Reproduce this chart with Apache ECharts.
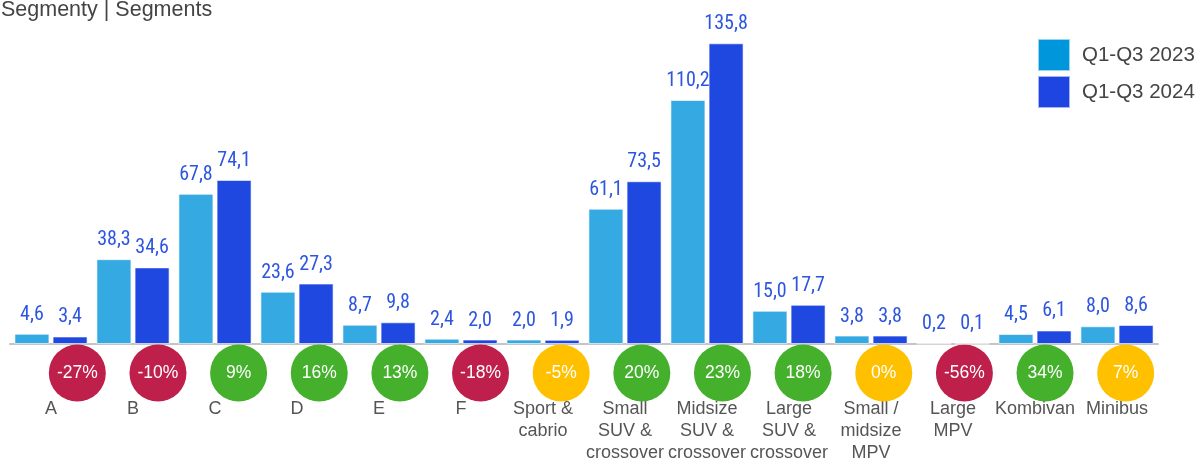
<!DOCTYPE html>
<html>
<head>
<meta charset="utf-8">
<script src="https://cdn.jsdelivr.net/npm/echarts@6/dist/echarts.min.js"></script>
<style>
html,body{margin:0;padding:0;background:#fff}
#chart{width:1199px;height:460px}
</style>
</head>
<body>
<div id="chart"></div>
<script>
// segmenty
var categories=['A','B','C','D','E','F','Sport &\ncabrio','Small\nSUV &\ncrossover','Midsize\nSUV &\ncrossover','Large\nSUV &\ncrossover','Small /\nmidsize\nMPV','Large\nMPV','Kombivan','Minibus'];
var values2023=[4.6,38.3,67.8,23.6,8.7,2.4,2.0,61.1,110.2,15.0,3.8,0.2,4.5,8.0];
var values2024=[3.4,34.6,74.1,27.3,9.8,2.0,1.9,73.5,135.8,17.7,3.8,0.1,6.1,8.6];
var changes=[-27,-10,9,16,13,-18,-5,20,23,18,0,-56,34,7];

var chart=echarts.init(document.getElementById('chart'));
var font='"Liberation Sans", Arial, sans-serif';
var narrow='"Roboto Condensed", "Liberation Sans Narrow", "DejaVu Sans Condensed", sans-serif';

function fmt(p){return p.value.toFixed(1).replace('.',',');}
function changeColor(v){
	if(v<-7) return '#be1f4b';
	if(v>8) return '#44b02c';
	return '#ffc000';
}

var valueLabel={
	show:true,position:'top',distance:9,
	fontFamily:narrow,fontSize:20,color:'#2d55e0',
	formatter:fmt
};

chart.setOption({
	animation:false,
	title:{
		text:'Segmenty | Segments',
		left:1,top:-1,padding:0,
		textStyle:{fontFamily:font,fontSize:21.5,fontWeight:'normal',color:'#444'}
	},
	legend:{
		orient:'vertical',left:1032,top:33,
		itemWidth:32,itemHeight:32,itemGap:3,
		icon:'rect',
		textStyle:{fontFamily:font,fontSize:20.5,color:'#444',padding:[0,0,0,7]},
		data:[
			{name:'Q1-Q3 2023',itemStyle:{color:'#0096db'}},
			{name:'Q1-Q3 2024',itemStyle:{color:'#1e44e1'}}
		]
	},
	grid:[
		{left:10,right:41,top:34,bottom:116,outerBoundsMode:'none',containLabel:false},
		{left:37,right:33,top:344,height:58,outerBoundsMode:'none',containLabel:false}
	],
	xAxis:[{
		type:'category',gridIndex:0,data:categories,
		axisLine:{lineStyle:{color:'#c4c4c4',width:2}},
		axisTick:{show:false},
		axisLabel:{
			interval:0,margin:54,
			fontFamily:font,fontSize:18,lineHeight:22,color:'#555',
			verticalAlign:'top'
		}
	},{
		type:'category',gridIndex:1,data:categories,show:false
	}],
	yAxis:[{
		type:'value',gridIndex:0,min:0,max:140,show:false,splitLine:{show:false}
	},{
		type:'value',gridIndex:1,min:0,max:1,show:false,splitLine:{show:false}
	}],
	series:[{
		name:'Q1-Q3 2023',type:'bar',data:values2023,
		barWidth:35,barGap:'9%',
		itemStyle:{color:'#35a9e1',borderColor:'rgba(255,255,255,0.6)',borderWidth:1},
		label:valueLabel
	},{
		name:'Q1-Q3 2024',type:'bar',data:values2024,
		barWidth:35,barGap:'9%',
		itemStyle:{color:'#1f48e0',borderColor:'rgba(255,255,255,0.6)',borderWidth:1},
		label:valueLabel
	},{
		name:'change',type:'scatter',xAxisIndex:1,yAxisIndex:1,
		symbolSize:57,z:1,
		data:changes.map(function(v,i){
			return {value:[i,0.5],change:v,itemStyle:{color:changeColor(v),opacity:1}};
		}),
		label:{
			show:true,position:'inside',
			fontFamily:font,fontSize:17.5,color:'#fff',
			formatter:function(p){return p.data.change+'%';}
		}
	}]
});
</script>
</body>
</html>
